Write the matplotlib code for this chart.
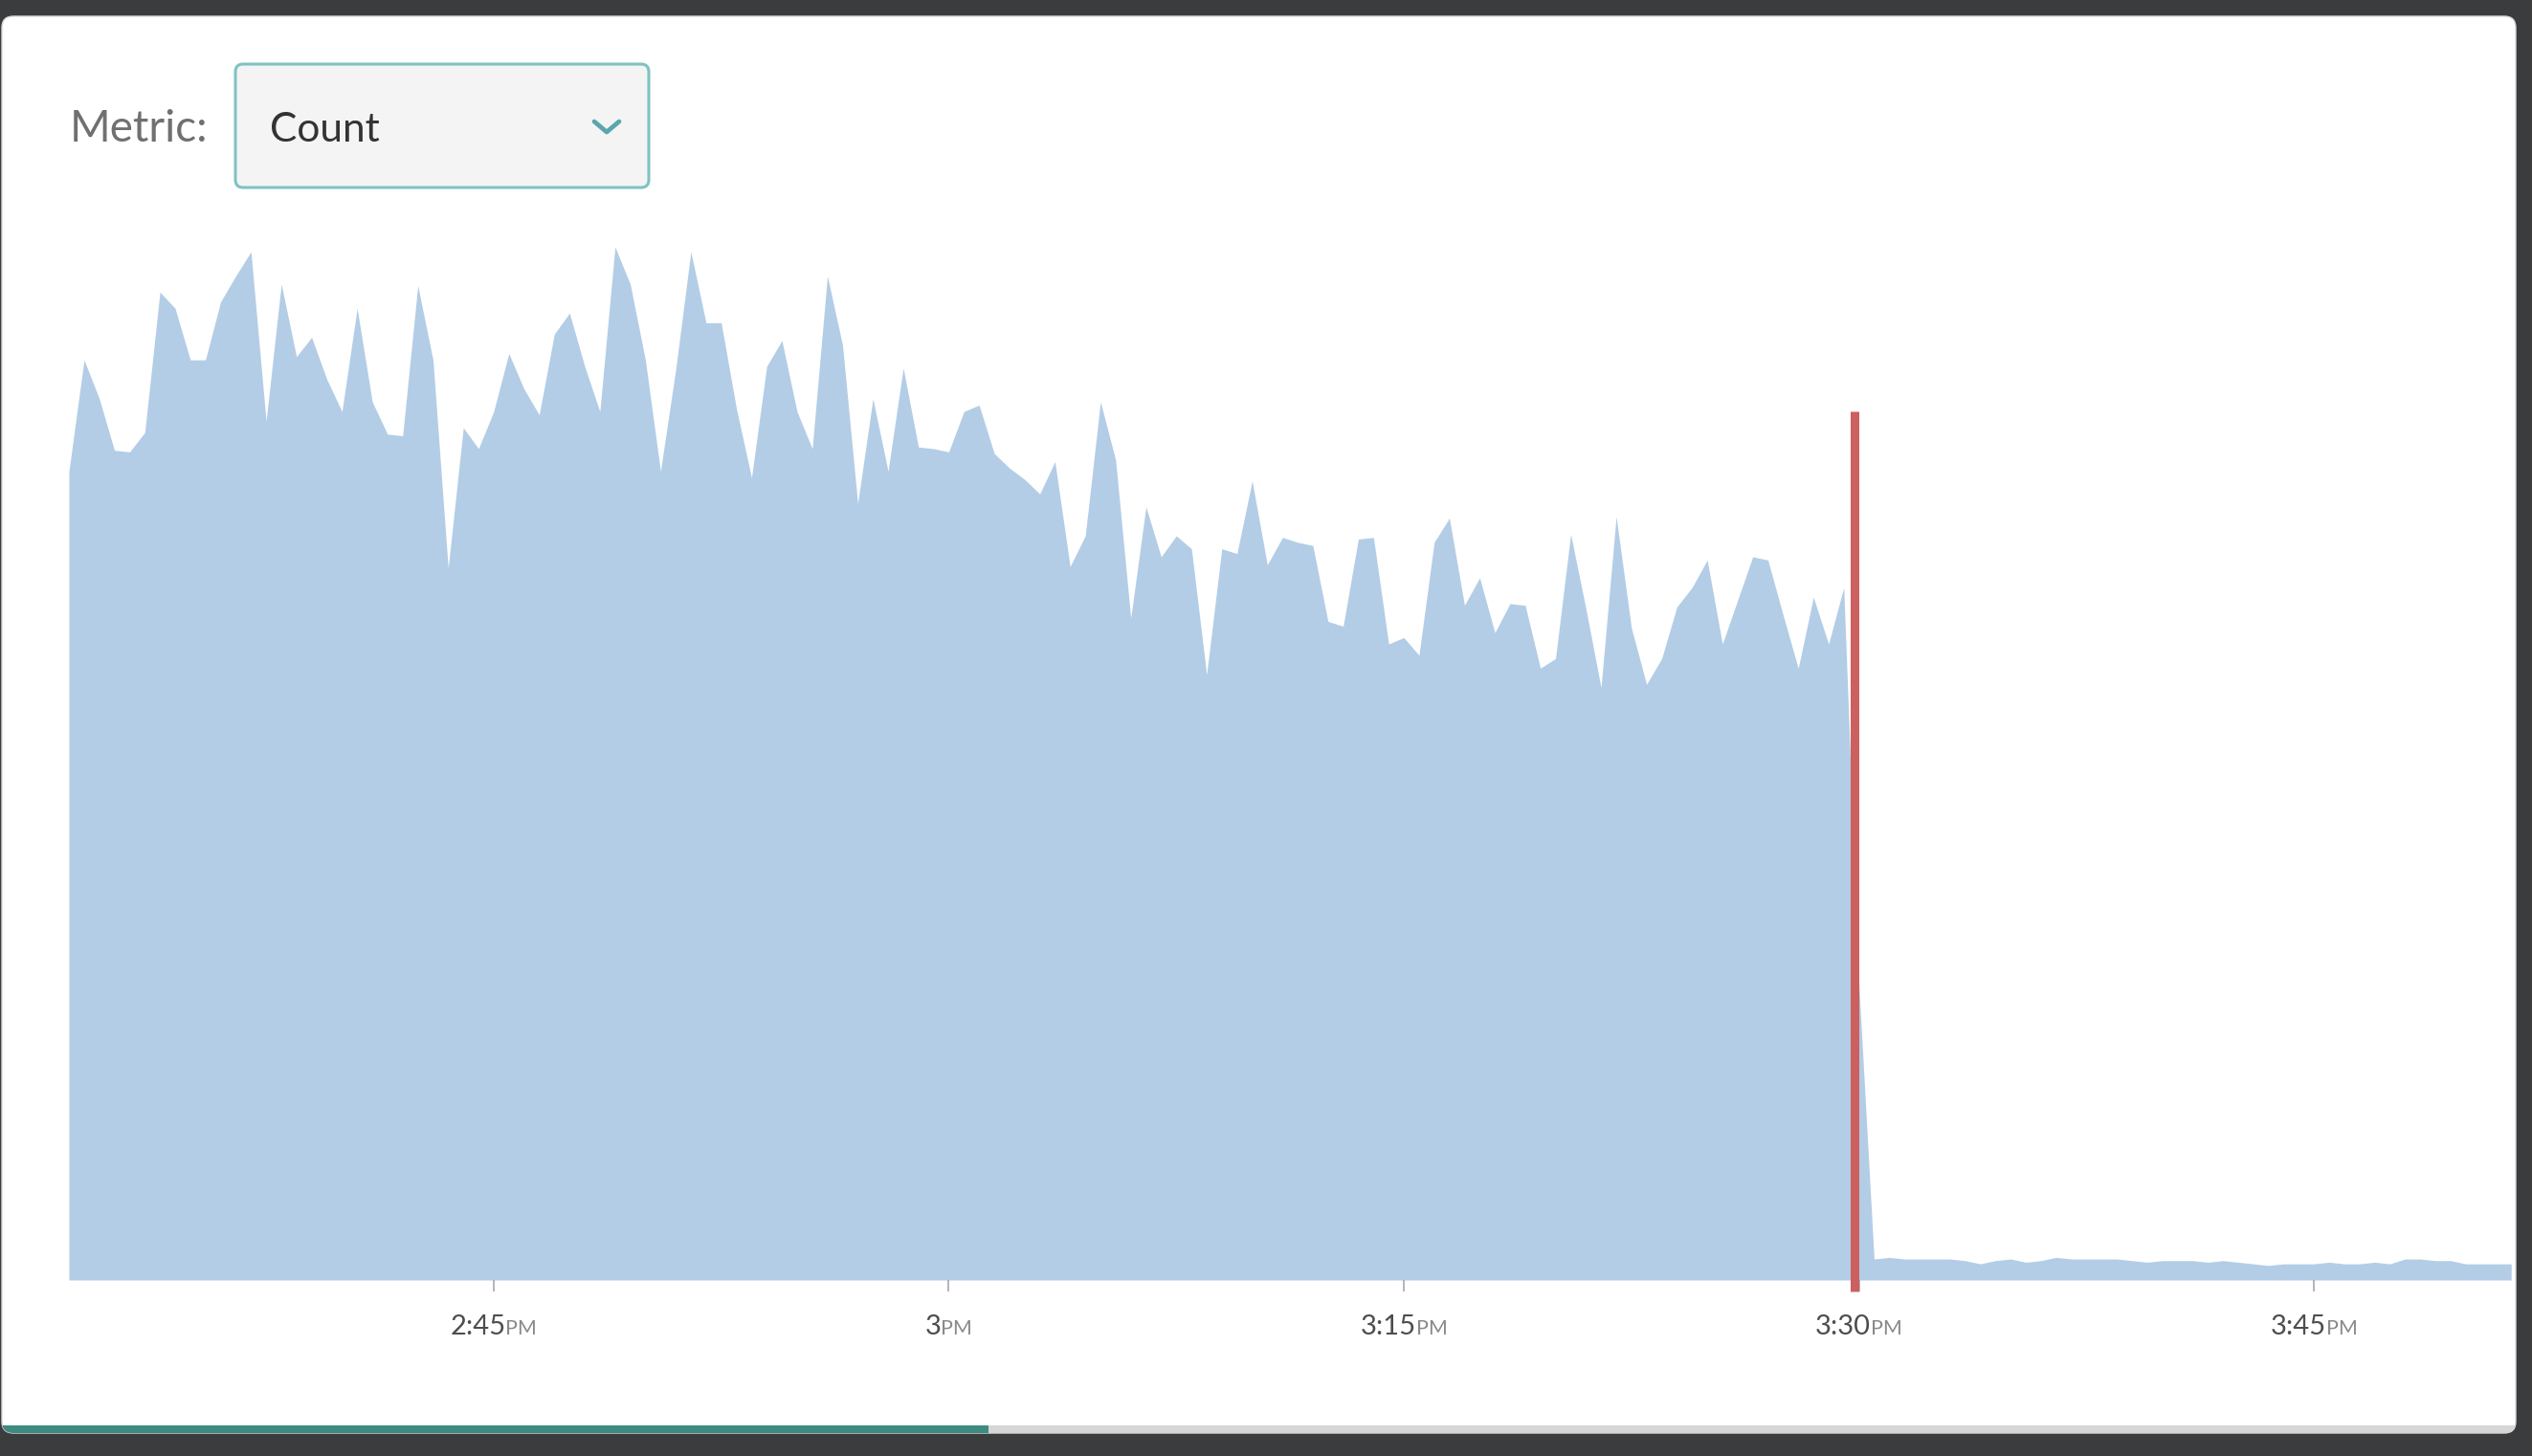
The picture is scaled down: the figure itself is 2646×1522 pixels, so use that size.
import matplotlib
matplotlib.use("Agg")
import matplotlib.pyplot as plt
import matplotlib.dates as mdates
from matplotlib.patches import FancyBboxPatch, Rectangle
import pandas as pd

# counts per 30 s bucket (arbitrary units)
start_time = "2017-06-01 14:31:00"
count_before = [501, 570, 546, 514, 513, 525, 612, 602, 570, 570,
                606, 622, 637, 532, 617, 572, 584, 558, 538, 602,
                544, 524, 523, 616, 570, 441, 528, 515, 538, 574,
                552, 536, 586, 599, 566, 538, 640, 617, 570, 501,
                564, 637, 593, 593, 540, 497, 566, 582, 538, 515,
                622, 579, 481, 546, 501, 565, 516, 515, 513, 538,
                542, 512, 503, 496, 487, 507, 442, 461, 544, 508,
                410, 479, 448, 461, 453, 375, 453, 450, 495, 443,
                460, 457, 455, 408, 405, 459, 460, 394, 398, 387,
                457, 472, 418, 435, 401, 419, 418, 379, 385, 462,
                416, 367, 473, 404, 369, 385, 417, 429, 446, 394,
                421, 448, 446, 412, 379, 423, 394, 429, 183]
count_after = [13, 14, 13, 13, 13, 13, 12, 10, 12, 13,
               11, 12, 14, 13, 13, 13, 13, 12, 11, 12,
               12, 12, 11, 12, 11, 10, 9, 10, 10, 10,
               11, 10, 10, 11, 10, 13, 13, 12, 12, 10,
               10, 10, 10]
view_end = "2017-06-01 15:51:39"
deploy_time = "2017-06-01 15:29:52"
deploy_top = 538

tick_times = ["2017-06-01 14:45", "2017-06-01 15:00", "2017-06-01 15:15",
              "2017-06-01 15:30", "2017-06-01 15:45"]
tick_nums = ["2:45", "3", "3:15", "3:30", "3:45"]
tick_suffix = "PM"

metric_label = "Metric:"
metric_value = "Count"

counts = count_before + count_after
times = pd.date_range(start_time, periods=len(counts), freq="30s")

W, H = 2646, 1522
plt.rcParams['font.family'] = ['Lato', 'DejaVu Sans']
fig = plt.figure(figsize=(W / 100, H / 100), dpi=100)
fig.patch.set_facecolor('#3b3c3e')

# page background / panel, in pixel coords
bg = fig.add_axes([0, 0, 1, 1])
bg.set_xlim(0, W)
bg.set_ylim(H, 0)
bg.axis('off')

panel = FancyBboxPatch((2, 17), 2627, 1481, boxstyle='round,pad=0,rounding_size=12',
                       fc='white', ec='#d9d9d9', lw=1.0)
bg.add_patch(panel)

prog_done = Rectangle((2, 1490), 1031, 8, fc='#3d8b80', lw=0)
prog_rest = Rectangle((1033, 1490), 1596, 8, fc='#d6d6d6', lw=0)
for p in (prog_done, prog_rest):
    bg.add_patch(p)
    p.set_clip_path(panel)

# metric selector
bg.text(73, 148, metric_label, fontsize=33, color='#707070', va='baseline', ha='left')
box = FancyBboxPatch((246, 67), 432, 129, boxstyle='round,pad=0,rounding_size=8',
                     fc='#f4f4f4', ec='#80c2c2', lw=2.2)
bg.add_patch(box)
bg.text(282, 148, metric_value, fontsize=30.5, color='#333333', va='baseline', ha='left')
bg.plot([621, 634, 647], [127, 138, 127], color='#5aa7ad', lw=3.4,
        solid_capstyle='round', solid_joinstyle='round')

# chart
ax = fig.add_axes([72 / W, (H - 1338) / H, (2629 - 72) / W, (1338 - 240) / H])
ax.patch.set_alpha(0)
ax.fill_between(times, counts, color='#b3cde6', lw=0)
ax.set_xlim(times[0], pd.Timestamp(view_end))
ax.set_ylim(0, 650.7)

dt = pd.Timestamp(deploy_time)
ax.plot([dt, dt], [-7, deploy_top], color='#cc5f5f', lw=6.5,
        solid_capstyle='butt', clip_on=False, zorder=3)

tick_pos = [mdates.date2num(pd.Timestamp(t)) for t in tick_times]
ax.set_xticks(tick_pos)
ax.tick_params(axis='x', length=8.6, width=1.2, color='#a8a8a8', labelbottom=False)
ax.set_yticks([])
for s in ax.spines.values():
    s.set_visible(False)

r = fig.canvas.get_renderer()
for pos, num in zip(tick_pos, tick_nums):
    a = ax.annotate(num, xy=(pos, 0), xycoords=('data', 'axes fraction'),
                    xytext=(0, -57), textcoords='offset pixels',
                    ha='left', va='baseline', fontsize=21, color='#4d4d4d')
    b = ax.annotate(tick_suffix, xy=(pos, 0), xycoords=('data', 'axes fraction'),
                    xytext=(0, -57), textcoords='offset pixels',
                    ha='left', va='baseline', fontsize=15.5, color='#8a8a8a')
    wa = a.get_window_extent(r).width
    wb = b.get_window_extent(r).width
    x0 = -(wa + wb) / 2
    a.xyann = (x0, -57)
    b.xyann = (x0 + wa, -57)

fig.savefig("out.png", dpi=100, facecolor=fig.get_facecolor())
